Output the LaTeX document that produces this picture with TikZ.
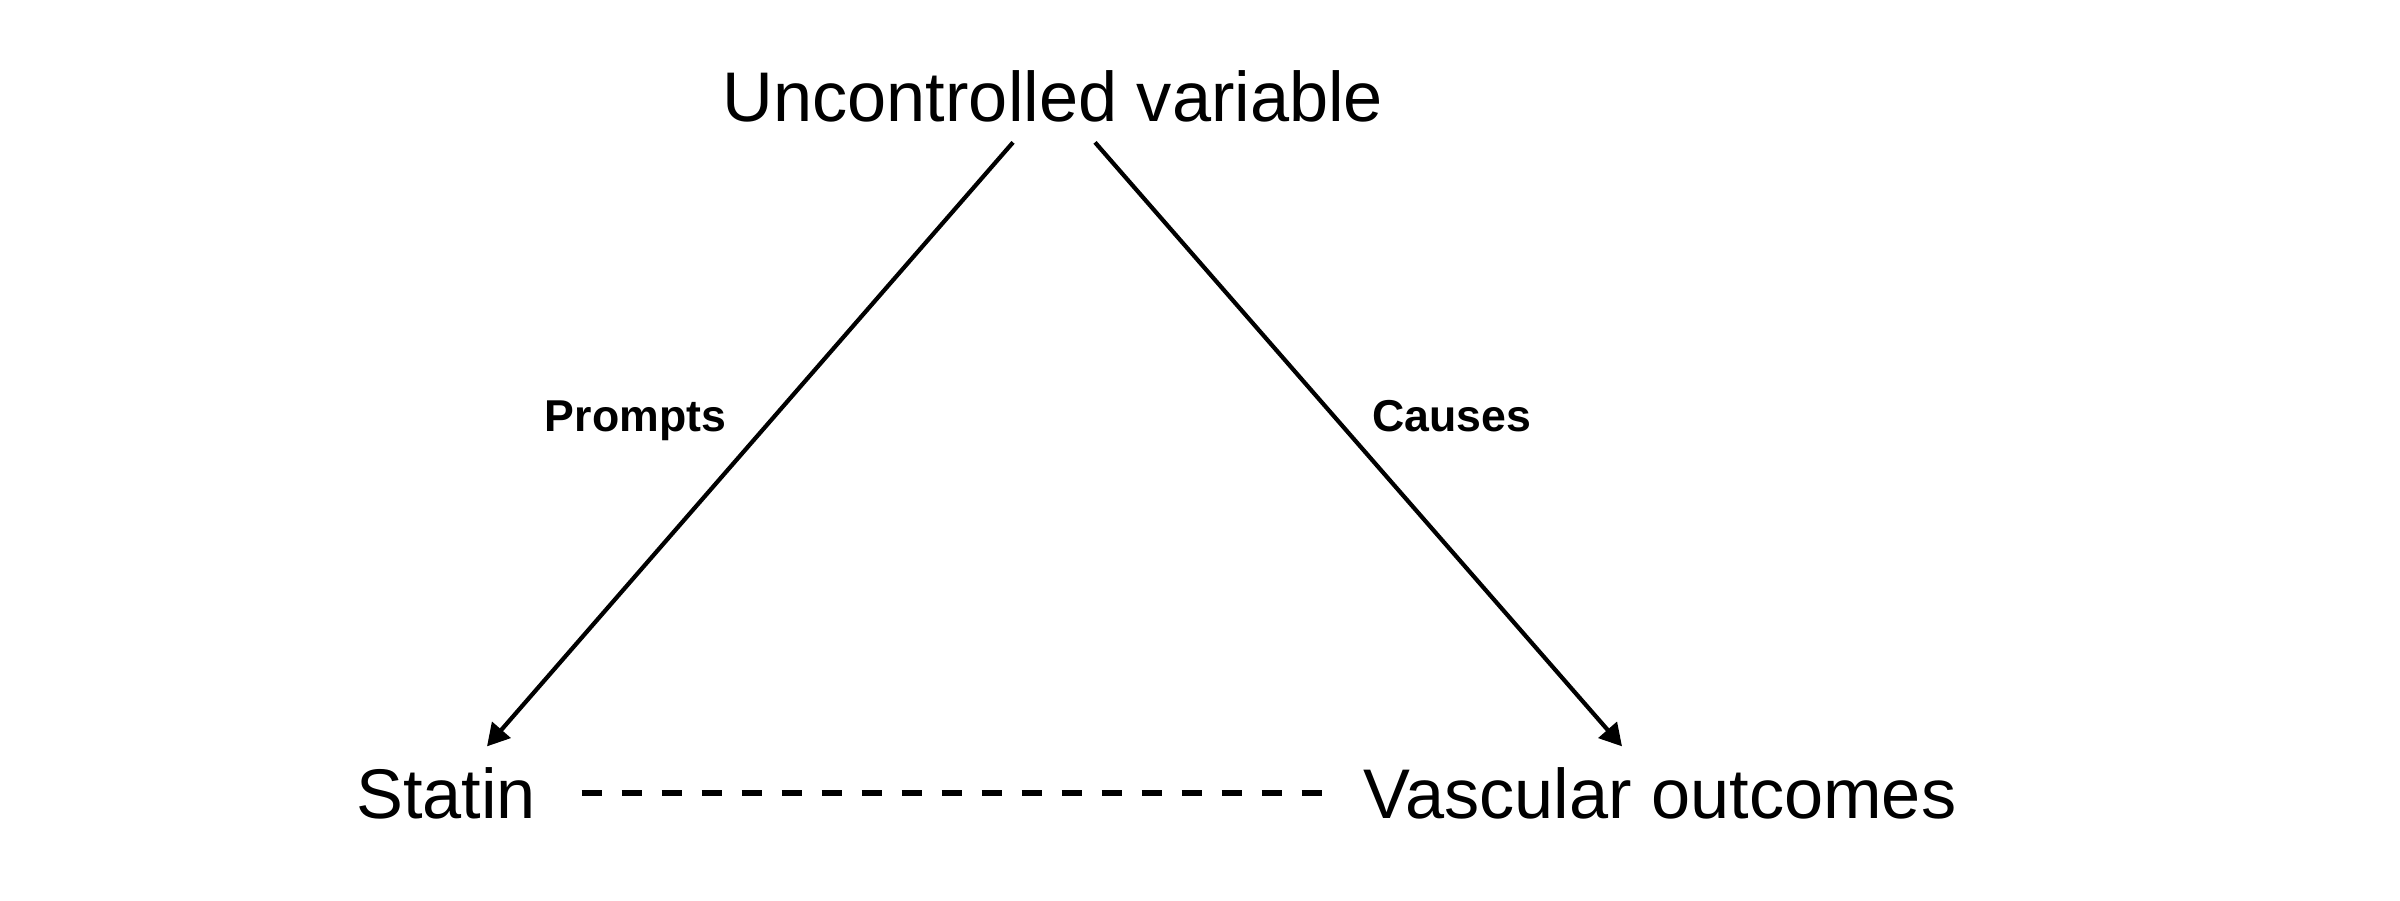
\documentclass[tikz,border=0pt]{standalone}
\usepackage{fontspec}
\setmainfont{Liberation Sans}
\usepackage{tikz}
\usetikzlibrary{arrows.meta}

\begin{document}
\begin{tikzpicture}[scale=1,
    varnode/.style={anchor=base, inner sep=0.2cm, font=\fontsize{20}{24}\selectfont},
    edgelabel/.style={anchor=base, font=\fontsize{12.7}{15}\selectfont\bfseries},
    causal/.style={line width=1.2pt,-{Triangle[length=2.2mm,width=2.4mm]}},
    assoc/.style={line width=1.7pt, dash pattern=on 0.2cm off 0.2cm}]
\useasboundingbox (0,0) rectangle (24,9);
\node[varnode] (uncontrolled) at (10.53, 7.79) {Uncontrolled variable};
\node[varnode] (statin) at (4.46, 0.82) {Statin};
\node[varnode] (outcomes) at (16.60, 0.82) {Vascular outcomes};
\node[edgelabel] (prompts) at (6.355, 4.683) {Prompts};
\node[edgelabel] (causes) at (14.52, 4.683) {Causes};
\draw[causal] ([xshift=-0.4cm]uncontrolled.south) -- ([xshift=0.41cm]statin.north);
\draw[causal] ([xshift=0.42cm]uncontrolled.south) -- ([xshift=-0.38cm]outcomes.north);
\draw[assoc, shorten <=0.25cm, shorten >=0.19cm] (statin.east) -- (outcomes.west);
\end{tikzpicture}
\end{document}
